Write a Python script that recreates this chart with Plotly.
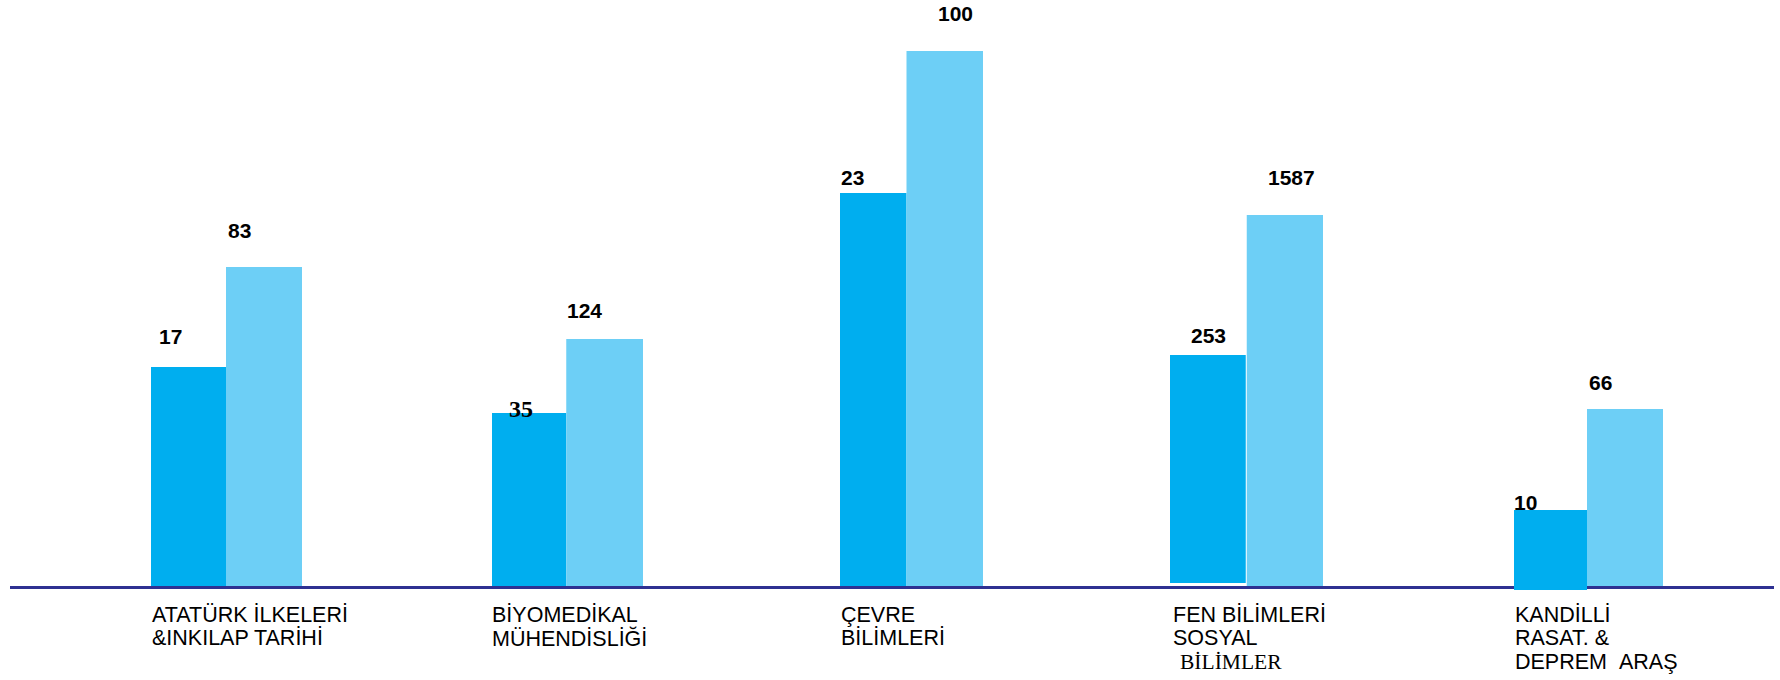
import plotly.graph_objects as go

# ---------------- data ----------------
categories = [
    "ATATÜRK İLKELERİ\n&INKILAP TARİHİ",
    "BİYOMEDİKAL\nMÜHENDİSLİĞİ",
    "ÇEVRE\nBİLİMLERİ",
    "FEN BİLİMLERİ\nSOSYAL\nBİLİMLER",
    "KANDİLLİ\nRASAT. &\nDEPREM  ARAŞ",
]
# bar heights as drawn (relative scale)
dark_height = [219, 173, 393, 232, 76]
light_height = [319, 247, 535, 371, 177]
# numbers printed above the bars
dark_labels = ["17", "35", "23", "253", "10"]
light_labels = ["83", "124", "100", "1587", "66"]

# ---------------- layout / style ----------------
W, H = 1780, 680
PX = 340.25          # pixels per category step
X0 = 226             # pixel position of first category
Y_TOP, Y_BOT = 586, -94   # y range in height units (1 unit = 1 px)

DARK = "#00AEEF"
LIGHT = "#6DCFF6"
LINE = "#2E3192"
FONT = "Liberation Sans, Arial, sans-serif"
SERIF = "Liberation Serif, Times New Roman, serif"

dark_w_px = [75, 74.25, 66.5, 77.75, 73]
light_w_px = [76, 76.75, 76.5, 76.25, 76]
dark_base = [0, 0, 0, 2, -4]

dark_w = [w / PX for w in dark_w_px]
light_w = [w / PX for w in light_w_px]

fig = go.Figure()
fig.add_trace(go.Bar(
    x=categories, y=[h - b for h, b in zip(dark_height, dark_base)], base=dark_base,
    width=dark_w, offset=[-w for w in dark_w],
    marker=dict(color=DARK, line=dict(color="white", width=[0, 0, 0, 2, 0])),
    hoverinfo="skip", showlegend=False,
))
fig.add_trace(go.Bar(
    x=categories, y=light_height, base=0,
    width=light_w, offset=0,
    marker=dict(color=LIGHT, line=dict(width=0)),
    hoverinfo="skip", showlegend=False,
))

annotations = []
# value labels (offsets relative to bar's left edge and top)
dark_dx = [7, 16, 0, 21, -1]
dark_dy = [31, 4, 16, 19, 8]
light_dx = [1, 0, 30, 20, 1]
light_dy = [37, 29, 37.5, 38, 27]
for i, c in enumerate(categories):
    serif = dark_labels[i] == "35"
    annotations.append(dict(
        x=c, y=dark_height[i], xref="x", yref="y",
        xshift=-dark_w_px[i] + dark_dx[i], yshift=dark_dy[i],
        xanchor="left", yanchor="middle", showarrow=False, borderpad=0,
        text="<b>%s</b>" % dark_labels[i],
        font=dict(family=SERIF if serif else FONT, size=24 if serif else 21, color="black"),
    ))
    annotations.append(dict(
        x=c, y=light_height[i], xref="x", yref="y",
        xshift=light_dx[i], yshift=light_dy[i],
        xanchor="left", yanchor="middle", showarrow=False, borderpad=0,
        text="<b>%s</b>" % light_labels[i],
        font=dict(family=FONT, size=21, color="black"),
    ))

# category labels (left aligned, one annotation per line)
cat_dx = [-75, -75, -67, -75, -73]
line_y = [-29, -52, -76]
for i, c in enumerate(categories):
    for j, ln in enumerate(c.split("\n")):
        serif = (i == 3 and j == 2)
        annotations.append(dict(
            x=c, y=line_y[j], xref="x", yref="y",
            xshift=cat_dx[i] + (7 if serif else 0), xanchor="left", yanchor="middle",
            showarrow=False, borderpad=0,
            text=ln.replace("  ", " \u00a0"),
            font=dict(family=SERIF if serif else FONT, size=21.5, color="black"),
        ))

fig.update_layout(
    width=W, height=H, autosize=False,
    margin=dict(l=0, r=0, t=0, b=0, pad=0),
    paper_bgcolor="white", plot_bgcolor="white",
    barmode="overlay",
    xaxis=dict(type="category", range=[-X0 / PX, (W - X0) / PX], visible=False,
               showgrid=False, zeroline=False, fixedrange=True),
    yaxis=dict(range=[Y_BOT, Y_TOP], visible=False, showgrid=False,
               zeroline=False, fixedrange=True),
    shapes=[dict(type="line", xref="paper", yref="y", x0=10 / W, x1=1774 / W,
                 y0=-1.5, y1=-1.5, line=dict(color=LINE, width=3), layer="below")],
    annotations=annotations,
)

fig.write_html(
    "out.html",
    config={"displayModeBar": False},
    post_script="document.body.style.margin='0';document.body.style.padding='0';",
)
